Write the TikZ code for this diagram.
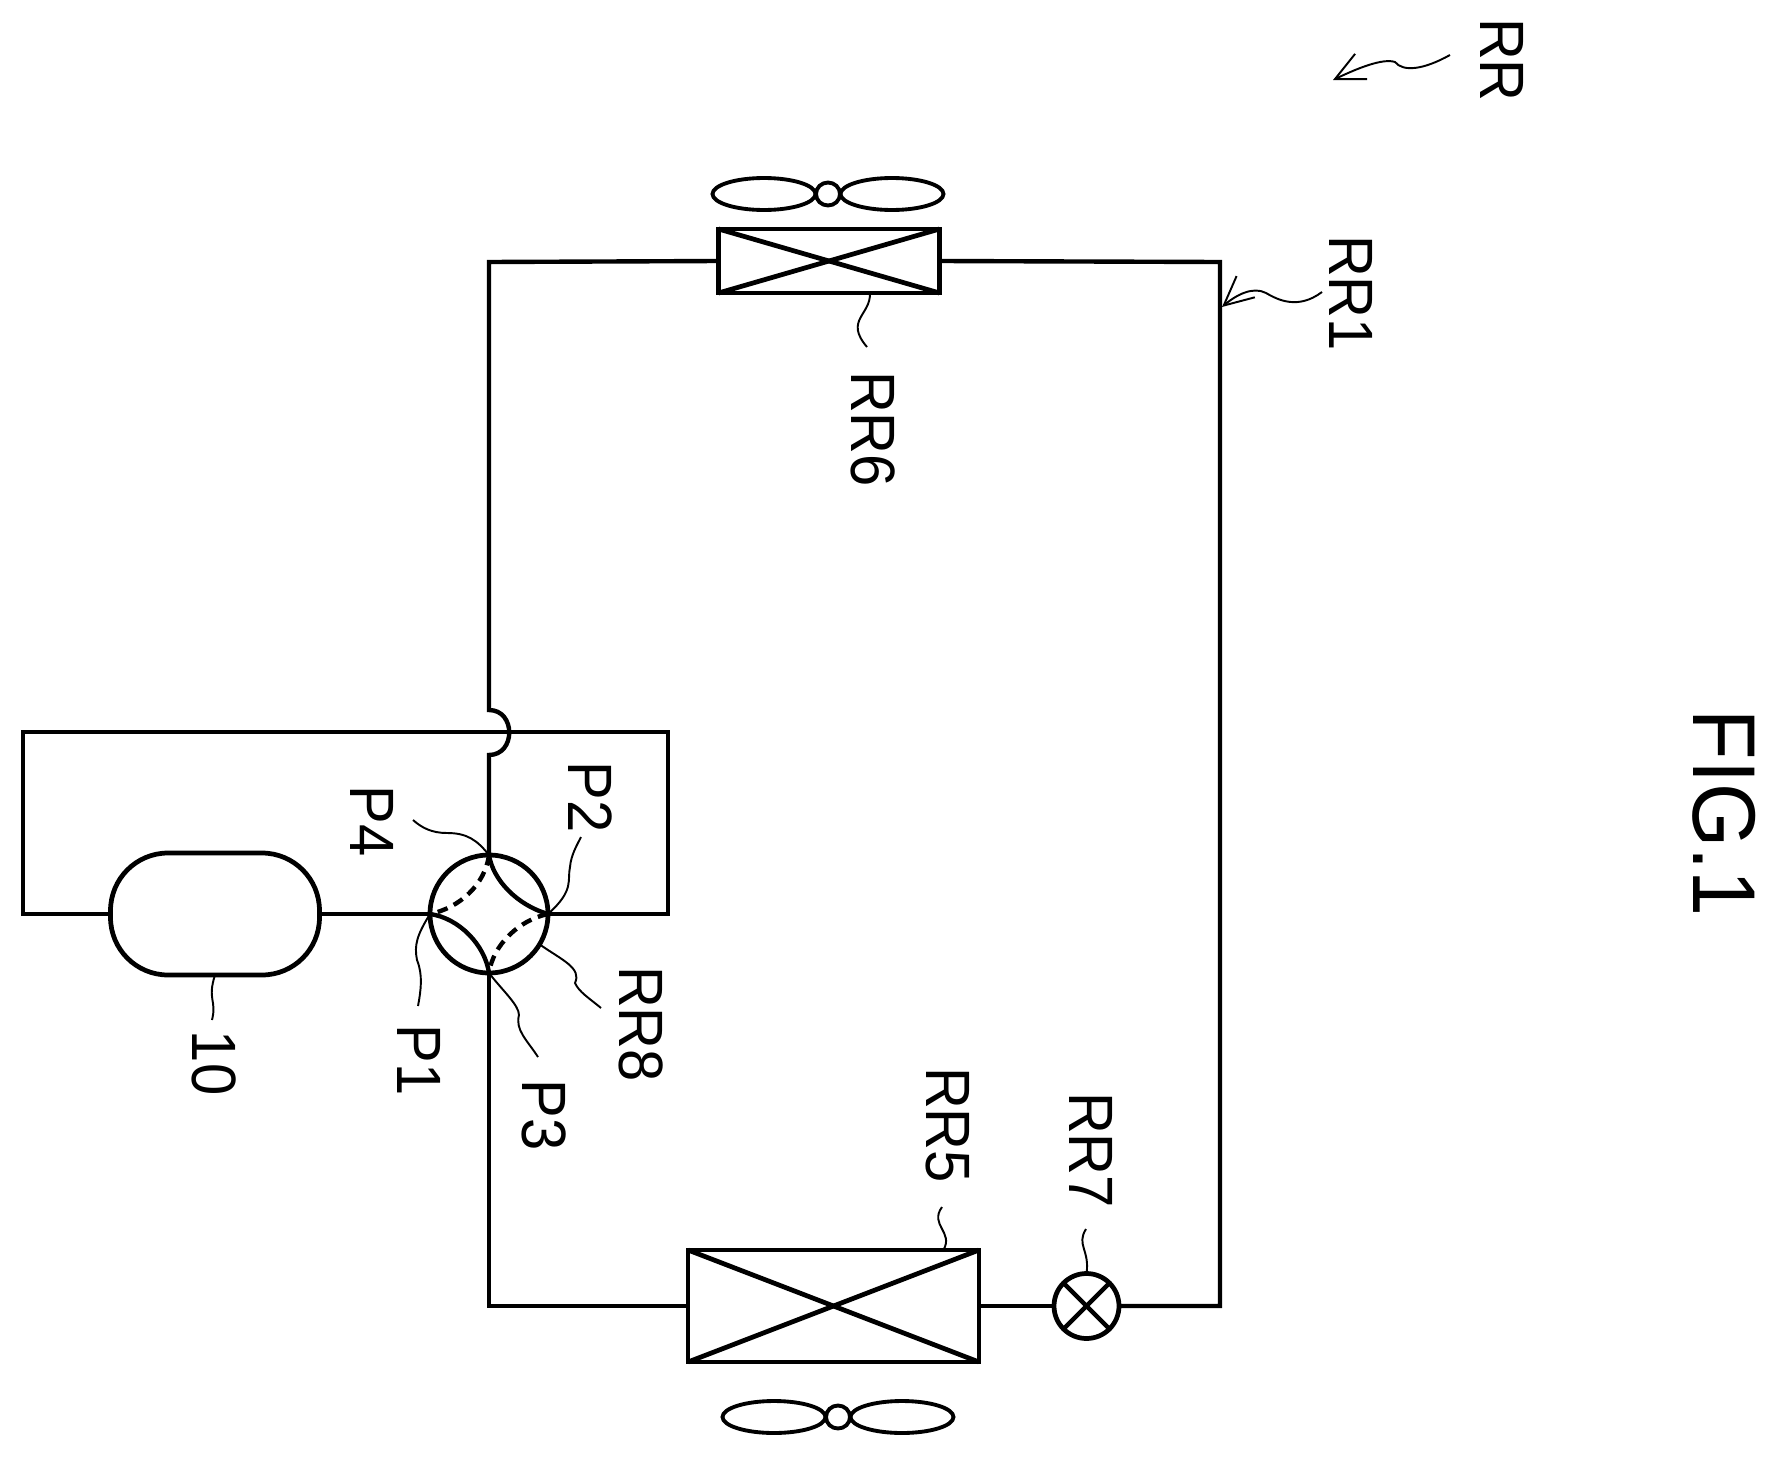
\documentclass[tikz,border=0pt]{standalone}
\usepackage{fontspec}
\setmainfont{Liberation Sans}
\usetikzlibrary{shapes}
\usetikzlibrary{arrows.meta}

\tikzset{
  pipe/.style={line width=2.5pt},
  part/.style={draw, line width=2.7pt, inner sep=0pt, outer sep=0pt},
  fanpart/.style={draw, ellipse, line width=2.2pt, inner sep=0pt, outer sep=0pt, minimum height=0.64cm, minimum width=2.06cm},
  leader/.style={line width=1.1pt},
  lbl/.style={rotate=-90, yscale=1.08, inner sep=0pt, font=\fontsize{33}{40}\selectfont}
}

\begin{document}
\begin{tikzpicture}[x=0.02cm, y=-0.02cm]
\useasboundingbox (0,0) rectangle (1779,1457);

% heat exchangers and fans
\node [part, minimum width=4.42cm, minimum height=1.28cm] at (829,261) (hxtop) {};
\node [part, minimum width=5.82cm, minimum height=2.24cm] at (833.5,1306) (hxbot) {};
\draw[part] (hxtop.north west) -- (hxtop.south east);
\draw[part] (hxtop.south west) -- (hxtop.north east);
\draw[part] (hxbot.north west) -- (hxbot.south east);
\draw[part] (hxbot.south west) -- (hxbot.north east);

\node [fanpart] at (764,194) (bladeA) {};
\node [fanpart] at (892,194) (bladeB) {};
\node [fanpart, minimum width=0.48cm, minimum height=0.46cm] at (828,194) (hubtop) {};
\node [fanpart] at (774,1417) (bladeC) {};
\node [fanpart] at (902,1417) (bladeD) {};
\node [fanpart, minimum width=0.48cm, minimum height=0.46cm] at (838,1417) (hubbot) {};

% compressor, valves
\node [part, rounded corners=1.15cm, minimum width=4.18cm, minimum height=2.44cm] at (215,914) (comp) {};
\node [part, circle, minimum size=2.36cm] at (489,914) (valve) {};
\node [part, circle, minimum size=1.3cm] at (1086.5,1306) (expv) {};
\draw[pipe] (expv.45) -- (expv.225);
\draw[pipe] (expv.135) -- (expv.-45);

\draw[pipe] (valve.north) .. controls (493,880) and (517,905) .. (valve.east);
\draw[pipe] (valve.west) .. controls (459,918) and (485,945) .. (valve.south);
\draw[pipe, dashed, dash pattern=on 6pt off 4pt] (valve.north) .. controls (485,885) and (459,908) .. (valve.west);
\draw[pipe, dashed, dash pattern=on 6pt off 4pt] (valve.east) .. controls (519,920) and (493,945) .. (valve.south);

% pipes
\coordinate (cnrA) at (1220,262);
\coordinate (cnrB) at (1220,1306);
\coordinate (cnrC) at (489,262);
\coordinate (cnrD) at (489,1306);
\coordinate (cnrE) at (23,914);
\coordinate (cnrF) at (23,732);
\coordinate (cnrG) at (668,732);
\coordinate (cnrH) at (668,914);
\coordinate (jumpA) at (489,755);
\coordinate (jumpB) at (489,710);

\draw[pipe, line join=miter] (hxtop.east) -- (cnrA) -- (cnrB) -- (expv.east);
\draw[pipe] (expv.west) -- (hxbot.east);
\draw[pipe, line join=miter] (hxbot.west) -- (cnrD) -- (valve.south);
\draw[pipe, line join=miter] (valve.north) -- (jumpA) .. controls (516,755) and (516,710) .. (jumpB) -- (cnrC) -- (hxtop.west);
\draw[pipe, line join=miter] (comp.west) -- (cnrE) -- (cnrF) -- (cnrG) -- (cnrH) -- (valve.east);
\draw[pipe] (comp.east) -- (valve.west);

% labels
\node [lbl] at (1502,60) (lblRR) {RR};
\node [lbl] at (1351,293) (lblRRa) {RR1};
\node [lbl] at (873,429) (lblRRf) {RR6};
\node [lbl] at (948,1125) (lblRRe) {RR5};
\node [lbl] at (1091,1150) (lblRRg) {RR7};
\node [lbl] at (641,1024) (lblRRh) {RR8};
\node [lbl] at (372,821) (lblPd) {P4};
\node [lbl] at (590,797) (lblPb) {P2};
\node [lbl] at (419,1060) (lblPa) {P1};
\node [lbl] at (544,1115) (lblPc) {P3};
\node [lbl] at (214,1063) (lblTen) {10};
\node [lbl, font=\fontsize{47}{56}\selectfont] at (1724,813) (lblFig) {FIG.1};

% leaders
\coordinate (endRR) at (1450,55);
\coordinate (tipRR) at (1333,80);
\coordinate (endRRa) at (1322,292);
\coordinate (tipRRa) at (1222,307);
\coordinate (endRRf) at (867,347);
\coordinate (endRRe) at (942,1207);
\coordinate (endRRg) at (1086,1229);
\coordinate (endRRh) at (601,1008);
\coordinate (endPd) at (413,820);
\coordinate (endPb) at (581,837);
\coordinate (endPa) at (418,1006);
\coordinate (endPc) at (538,1057);
\coordinate (endTen) at (212,1020);

\draw[leader, -{Straight Barb[length=0.58cm, width=0.56cm]}] (endRR) .. controls (1423,70) and (1403,72) .. (1395,62) .. controls (1383,58) and (1358,68) .. (tipRR);
\draw[leader, -{Straight Barb[length=0.58cm, width=0.56cm]}] (endRRa) .. controls (1298,310) and (1278,300) .. (1266,293) .. controls (1253,286) and (1236,295) .. (tipRRa);
\draw[leader] (hxtop.-38) .. controls (871,315) and (844,320) .. (endRRf);
\draw[leader] (hxbot.27) .. controls (954,1232) and (929,1225) .. (endRRe);
\draw[leader] (expv.north) .. controls (1090,1250) and (1076,1245) .. (endRRg);
\draw[leader] (valve.-31) .. controls (562,960) and (582,968) .. (575,983) .. controls (579,992) and (589,998) .. (endRRh);
\draw[leader] (valve.north) .. controls (477,840) and (467,833) .. (447,833) .. controls (432,833) and (422,828) .. (endPd);
\draw[leader] (valve.east) .. controls (575,890) and (567,880) .. (570,867) .. controls (571,855) and (577,845) .. (endPb);
\draw[leader] (valve.west) .. controls (417,935) and (414,945) .. (417,960) .. controls (423,975) and (421,990) .. (endPa);
\draw[leader] (valve.south) .. controls (502,990) and (519,1005) .. (519,1015) .. controls (515,1030) and (527,1040) .. (endPc);
\draw[leader] (comp.south) .. controls (207,1000) and (217,1000) .. (endTen);
\end{tikzpicture}
\end{document}
